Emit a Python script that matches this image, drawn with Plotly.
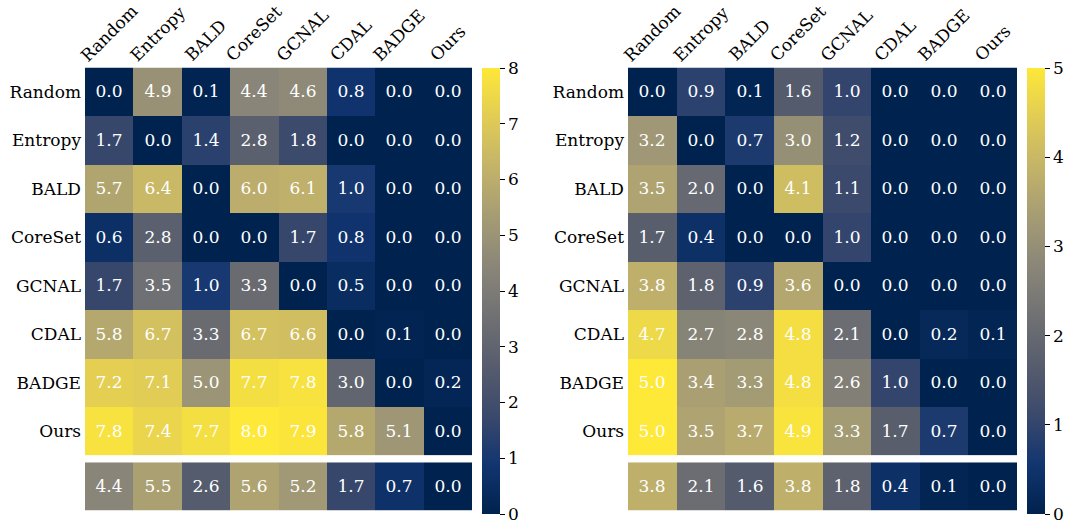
import plotly.graph_objects as go

# Method names shared by both panels
methods = ["Random", "Entropy", "BALD", "CoreSet", "GCNAL", "CDAL", "BADGE", "Ours"]

# Left panel: pairwise win matrix (row beats column) and column means
left_matrix = [
    [0.0, 4.9, 0.1, 4.4, 4.6, 0.8, 0.0, 0.0],
    [1.7, 0.0, 1.4, 2.8, 1.8, 0.0, 0.0, 0.0],
    [5.7, 6.4, 0.0, 6.0, 6.1, 1.0, 0.0, 0.0],
    [0.6, 2.8, 0.0, 0.0, 1.7, 0.8, 0.0, 0.0],
    [1.7, 3.5, 1.0, 3.3, 0.0, 0.5, 0.0, 0.0],
    [5.8, 6.7, 3.3, 6.7, 6.6, 0.0, 0.1, 0.0],
    [7.2, 7.1, 5.0, 7.7, 7.8, 3.0, 0.0, 0.2],
    [7.8, 7.4, 7.7, 8.0, 7.9, 5.8, 5.1, 0.0],
]
left_mean = [4.4, 5.5, 2.6, 5.6, 5.2, 1.7, 0.7, 0.0]
left_max = 8

# Right panel
right_matrix = [
    [0.0, 0.9, 0.1, 1.6, 1.0, 0.0, 0.0, 0.0],
    [3.2, 0.0, 0.7, 3.0, 1.2, 0.0, 0.0, 0.0],
    [3.5, 2.0, 0.0, 4.1, 1.1, 0.0, 0.0, 0.0],
    [1.7, 0.4, 0.0, 0.0, 1.0, 0.0, 0.0, 0.0],
    [3.8, 1.8, 0.9, 3.6, 0.0, 0.0, 0.0, 0.0],
    [4.7, 2.7, 2.8, 4.8, 2.1, 0.0, 0.2, 0.1],
    [5.0, 3.4, 3.3, 4.8, 2.6, 1.0, 0.0, 0.0],
    [5.0, 3.5, 3.7, 4.9, 3.3, 1.7, 0.7, 0.0],
]
right_mean = [3.8, 2.1, 1.6, 3.8, 1.8, 0.4, 0.1, 0.0]
right_max = 5

W, H = 1070, 524
FONT = "DejaVu Serif"
LABEL_SIZE = 17
CELL_SIZE = 17


def px_x(v):
    return v / W


def px_y(v):
    return 1 - v / H


fig = go.Figure()

panels = [
    # (matrix, mean, zmax, x0, x1, colorbar x, axis index main, axis index mean)
    (left_matrix, left_mean, left_max, 85, 472, 482, 1, 2),
    (right_matrix, right_mean, right_max, 628, 1017, 1027, 3, 4),
]

main_top, main_bot = 67.5, 455.3
mean_top, mean_bot = 462.3, 510.7
cb_top, cb_bot = 68, 514

n = len(methods)
x_range = [-0.5, n - 0.5]

layout_axes = {}
annotations = []

for matrix, mean, zmax, x0, x1, cbx, ia, ib in panels:
    xa, ya = f"x{ia}", f"y{ia}"
    xb, yb = f"x{ib}", f"y{ib}"
    fig.add_trace(go.Heatmap(
        z=matrix, x=methods, y=methods,
        xaxis=xa, yaxis=ya,
        colorscale="cividis", zmin=0, zmax=zmax,
        texttemplate="%{z:.1f}",
        textfont=dict(family=FONT, size=CELL_SIZE, color="white"),
        hoverinfo="skip",
        colorbar=dict(
            x=px_x(cbx), xanchor="left", xref="paper",
            y=px_y(cb_bot), yanchor="bottom",
            len=(cb_bot - cb_top) / H, lenmode="fraction",
            thickness=18, thicknessmode="pixels",
            outlinewidth=0,
            ticks="outside", ticklen=5, tickwidth=1, tickcolor="black",
            tickmode="linear", tick0=0, dtick=1,
            ticklabeloverflow="allow",
            tickfont=dict(family=FONT, size=17, color="black"),
            ypad=0, xpad=0,
        ),
    ))
    fig.add_trace(go.Heatmap(
        z=[mean], x=methods, y=["mean"],
        xaxis=xb, yaxis=yb,
        colorscale="cividis", zmin=0, zmax=zmax,
        texttemplate="%{z:.1f}",
        textfont=dict(family=FONT, size=CELL_SIZE, color="white"),
        hoverinfo="skip",
        showscale=False,
    ))

    sa = "" if ia == 1 else str(ia)
    sb = str(ib)
    common = dict(showgrid=False, zeroline=False, showline=False,
                  automargin=False, ticks="")
    layout_axes[f"xaxis{sa}"] = dict(
        domain=[px_x(x0), px_x(x1)], anchor=ya, range=x_range,
        showticklabels=False, **common,
    )
    layout_axes[f"yaxis{sa}"] = dict(
        domain=[px_y(main_bot), px_y(main_top)], anchor=xa,
        range=[n - 0.5, -0.5], ticklabelstandoff=3,
        tickfont=dict(family=FONT, size=LABEL_SIZE, color="black"),
        **common,
    )
    layout_axes[f"xaxis{sb}"] = dict(
        domain=[px_x(x0), px_x(x1)], anchor=yb, range=x_range,
        showticklabels=False, **common,
    )
    layout_axes[f"yaxis{sb}"] = dict(
        domain=[px_y(mean_bot), px_y(mean_top)], anchor=xb,
        range=[0.5, -0.5], showticklabels=False, **common,
    )

    # Rotated column headers above each matrix
    for m in methods:
        annotations.append(dict(
            x=m, xref=xa, y=px_y(68), yref="paper",
            text=m, showarrow=False, textangle=-45,
            xanchor="center", yanchor="bottom",
            font=dict(family=FONT, size=LABEL_SIZE, color="black"),
        ))

fig.update_layout(
    width=W, height=H,
    margin=dict(l=0, r=0, t=0, b=0),
    paper_bgcolor="white", plot_bgcolor="white",
    annotations=annotations,
    **layout_axes,
)

fig.write_html("out.html")
